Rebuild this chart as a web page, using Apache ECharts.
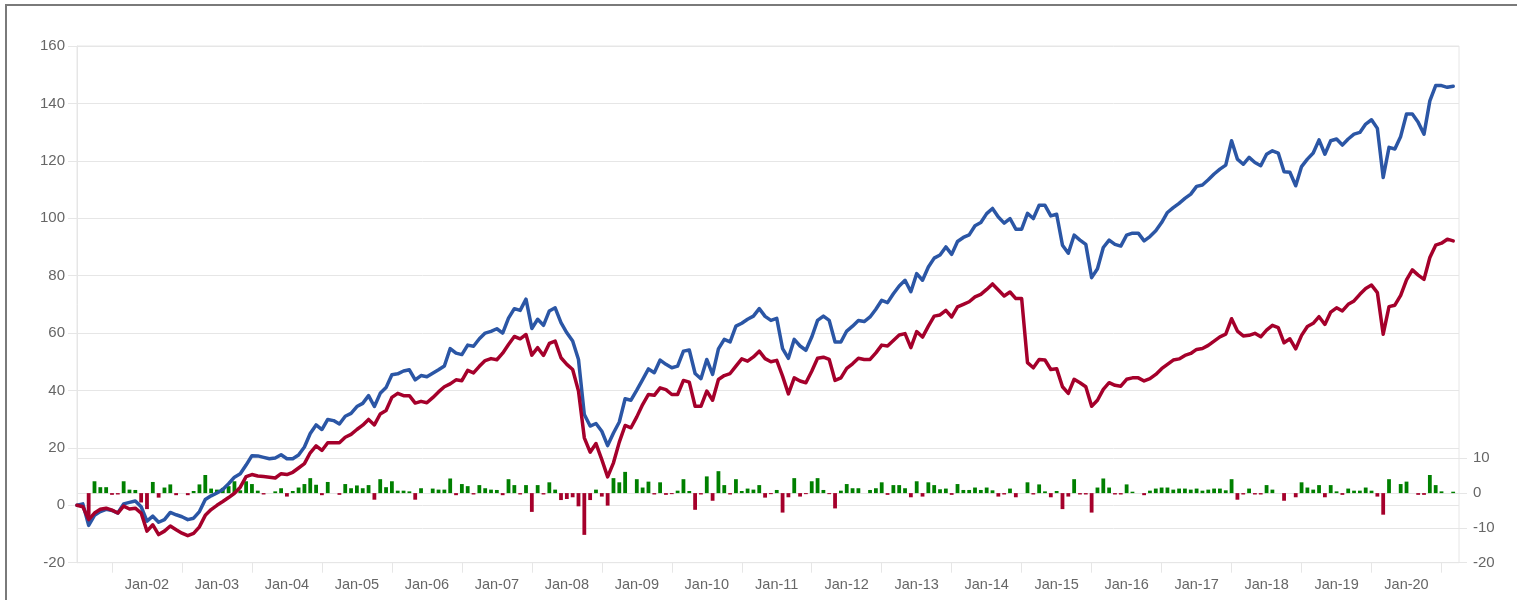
<!DOCTYPE html>
<html>
<head>
    <meta charset="utf-8">
    <title>ECharts</title>
    <script src="https://cdn.jsdelivr.net/npm/echarts@6/dist/echarts.min.js"></script>
    <style>
        body { margin: 0; background: #fff; overflow: hidden; }
        #frame { position: absolute; left: 5px; top: 4px; width: 1700px; height: 800px;
                 border-top: 2px solid #7a7a7a; border-left: 2px solid #7a7a7a; }
        #main { position: absolute; left: 0; top: 0; width: 1517px; height: 600px; }
    </style>
</head>
<body>
<div id="frame"></div>
<div id="main"></div>
<script type="text/javascript">
    // monthly points, Jul 2001 .. Mar 2021 (axis runs one month further)
    var startYear = 2001, startMonth = 7, monthCount = 238;

    // cumulative return, blue line
    var blueLine = [
        0, 0.5, -7, -3.5, -2.2, -1.4,
        -1.8, -2.7, 0.5, 1.0, 1.5, -0.5, -5.5, -3.8, -5.9, -5, -2.5, -3.3,
        -4, -5, -4.5, -2.2, 2, 3.3, 4.3, 5.5, 7.5, 9.8, 11, 14,
        17.3, 17.2, 16.7, 16.2, 16.5, 17.6, 16.2, 16.2, 17.5, 20.3, 25, 28,
        26.4, 29.9, 29.5, 28.3, 31, 32, 34.4, 35.5, 38.2, 34.4, 39, 41,
        45.5, 45.8, 46.8, 47.2, 43.7, 45.2, 44.8, 46, 47.2, 48.5, 54.6, 53,
        52.5, 55.8, 55.4, 58, 60, 60.6, 61.5, 60, 65.2, 68.5, 67.9, 71.8,
        61.6, 64.8, 62.7, 67.7, 68.8, 63.6, 60.1, 57.2, 50.8, 31.6, 27.6, 28.5,
        25.8, 20.8, 25.2, 29, 37.1, 36.6, 40.1, 43.8, 47.5, 46.2, 50.6, 49.1,
        47.9, 48.5, 53.7, 54.1, 45.9, 44.1, 50.8, 45.6, 54.5, 57.8, 56.9, 62.4,
        63.4, 64.8, 65.9, 68.5, 65.8, 64.4, 65.1, 54.6, 51.2, 57.8, 55.5, 54,
        58.6, 64.4, 65.9, 64.4, 56.9, 56.9, 60.7, 62.4, 64.4, 64, 65.6, 68.3,
        71.4, 70.6, 73.7, 76.4, 78.4, 74.4, 80.7, 78.4, 83, 86.1, 87.2, 90,
        87.4, 91.9, 93.3, 94.2, 97.4, 98.5, 101.6, 103.4, 100.4, 98.3, 99.9, 96.2,
        96.2, 101.7, 99.9, 104.5, 104.5, 100.8, 101.4, 90.6, 87.8, 94.1, 92.4, 90.9,
        79.3, 82.4, 89.8, 92.4, 90.9, 90.3, 94.1, 94.8, 94.8, 92.1, 93.6, 95.6,
        98.5, 102, 103.7, 105.2, 106.9, 108.4, 111.1, 111.6, 113.4, 115.4, 117.1, 118.5,
        127, 120.6, 118.8, 121.2, 119.4, 118.3, 122.3, 123.5, 122.7, 116.2, 116, 111.3,
        118, 120.6, 122.7, 127.3, 122.3, 127, 127.6, 125.5, 127.6, 129.3, 129.9, 132.8,
        134.3, 131.3, 114.2, 124.7, 124.1, 128.5, 136.3, 136.3, 133.4, 129.3, 140.9, 146.2,
        146.2, 145.6, 146
    ];

    // cumulative return, red line
    var redLine = [
        0, -0.5, -5, -2.7, -1.4, -1,
        -1.7, -2.7, -0.3, -1.3, -1, -2.7, -9, -6.8, -10.2, -9, -7.2, -8.5,
        -9.7, -10.6, -9.8, -7.5, -3.5, -1.5, 0, 1.3, 2.7, 4.2, 6.3, 10,
        10.7, 10.2, 10, 9.8, 9.5, 11, 10.7, 11.5, 13, 14.5, 18.3, 20.7,
        19.1, 21.8, 21.8, 21.8, 23.7, 24.7, 26.4, 27.9, 29.9, 28, 31.8, 33,
        37.6, 39, 38.2, 38.2, 35.6, 36.2, 35.7, 37.5, 39.5, 41.3, 42.3, 43.7,
        43.4, 47, 46.1, 48.4, 50.4, 51.1, 50.7, 53, 56, 58.8, 58, 59.5,
        52.3, 54.9, 52.2, 56.4, 57.2, 51.4, 49.1, 47.3, 39.8, 23.5, 18.5, 21.5,
        15.9, 9.9, 14.8, 22, 27.8, 27, 30.8, 35.1, 38.6, 38.3, 40.9, 40.3,
        38.6, 38.6, 43.5, 42.9, 34.5, 34.5, 39.8, 36.6, 43.8, 45.2, 45.9, 48.5,
        51, 50.2, 51.7, 53.7, 51.1, 50, 50.5, 45, 38.8, 44.4, 43.3, 42.7,
        46.7, 51.2, 51.6, 50.8, 43.5, 44.4, 47.7, 49.3, 51.2, 50.8, 50.8, 53.1,
        55.8, 55.5, 57.4, 59.3, 59.8, 54.9, 60.5, 58.6, 62.4, 65.9, 66.3, 67.9,
        65.6, 69.1, 70, 70.9, 72.6, 73.5, 75.2, 77.1, 75, 72.9, 74.3, 72,
        72, 49.7, 47.9, 50.8, 50.6, 47.3, 47.6, 41.3, 39, 43.9, 42.7, 41.3,
        34.5, 36.6, 40.4, 42.7, 41.8, 41.5, 43.9, 44.4, 44.4, 43.3, 44.1, 45.6,
        47.6, 49.1, 50.6, 51, 52.2, 52.9, 54.3, 54.6, 55.7, 57.2, 58.7, 59.6,
        65, 60.7, 59, 59.2, 59.9, 58.7, 61, 62.7, 61.9, 56.6, 58, 54.5,
        59.2, 62.3, 63.4, 65.7, 63, 67.3, 68.8, 67.7, 70, 71.2, 73.5, 75.5,
        76.7, 74.1, 59.6, 69.2, 69.7, 73.1, 78.5, 82, 80.2, 78.7, 86.3, 90.6,
        91.3, 92.7, 92.1
    ];

    // monthly difference, right axis bars
    var monthlyDiff = [
        0, 0, -7.5, 3.4, 1.7, 1.7,
        -0.5, -0.4, 3.4, 1.0, 0.9, -2.7, -4.6, 3.2, -1.3, 1.6, 2.5, -0.6,
        0, -0.6, 0.6, 2.5, 5.2, 1.3, 1.0, 1.5, 2.0, 3.4, 0.8, 3.4,
        2.6, 0.7, -0.4, 0, 0.5, 1.4, -1.0, 0.6, 1.6, 2.6, 4.3, 2.4,
        -0.6, 3.2, 0, -0.5, 2.6, 1.4, 2.2, 1.4, 2.3, -1.9, 4.0, 1.7,
        3.4, 0.7, 0.7, 0.5, -1.9, 1.4, 0, 1.3, 1.0, 1.0, 4.2, -0.6,
        2.6, 2.0, -0.4, 2.3, 1.4, 1.0, 0.9, -0.6, 4.0, 2.3, -0.4, 2.3,
        -5.4, 2.3, -0.4, 3.1, 1.0, -2.0, -1.7, -1.2, -3.8, -12, -2.0, 1.0,
        -1.0, -3.6, 4.3, 3.1, 6.1, 0, 4.0, 1.6, 3.3, -0.4, 3.1, -0.5,
        -0.3, 0.7, 4.0, 0.6, -4.8, -0.4, 4.8, -2.2, 6.3, 2.3, -0.4, 4.0,
        0.6, 1.3, 1.0, 2.3, -1.3, -0.3, 0.9, -5.6, -1.2, 4.3, -1.0, -0.3,
        3.4, 4.3, 0.9, -0.3, -4.4, 0.7, 2.6, 1.4, 1.4, 0, 0.9, 1.4,
        3.1, -0.5, 2.3, 2.3, 1.4, -1.2, 3.4, -1.0, 3.1, 2.3, 1.1, 1.3,
        -0.5, 2.6, 0.9, 0.9, 1.6, 0.9, 1.6, 0.8, -1.0, -0.4, 1.3, -1.2,
        0, 3.1, -0.4, 2.5, 0.5, -1.2, 0.6, -4.6, -1.0, 4.0, -0.4, -0.4,
        -5.6, 1.6, 4.2, 1.6, -0.4, -0.4, 2.5, 0.4, 0, -0.6, 0.7, 1.3,
        1.6, 1.6, 1.0, 1.3, 1.3, 1.0, 1.3, 0.7, 1.0, 1.3, 1.3, 0.8,
        4.0, -1.9, -0.4, 1.3, -0.4, -0.4, 2.3, 1.0, 0, -2.2, 0, -1.2,
        3.1, 1.6, 1.0, 2.3, -1.2, 2.3, 0.5, -0.5, 1.3, 0.7, 0.7, 1.6,
        0.7, -1.0, -6.2, 4.0, 0, 2.6, 3.3, 0, -0.5, -0.5, 5.2, 2.3,
        0.5, 0, 0.4
    ];

    var leftTicks = { min: -20, max: 160, step: 20 };
    var rightTicks = { min: -20, max: 10, step: 10 };

    var months = [];
    for (var k = 0; k < monthCount; k++) {
        var m = startMonth - 1 + k;
        var y = startYear + Math.floor(m / 12);
        var mm = (m % 12) + 1;
        months.push(y + '-' + (mm < 10 ? '0' + mm : mm));
    }

    var gridColor = '#e6e6e6';
    var textStyle = { color: '#666666', fontFamily: '"Liberation Sans", Arial, sans-serif' };
    var blue = '#2b56a5';
    var red = '#a5002b';
    var green = '#008000';

    var myChart = echarts.init(document.getElementById('main'), null, { renderer: 'canvas' });

    var option = {
        animation: false,
        backgroundColor: 'transparent',
        grid: [
            { left: 77, right: 58, top: 46, bottom: 37.3, show: true,
              borderColor: gridColor, borderWidth: 1, backgroundColor: 'transparent' },
            { left: 77, right: 58, top: 458.3, bottom: 37.3 }
        ],
        xAxis: [
            {
                type: 'category', gridIndex: 0, data: months, boundaryGap: false,
                axisLine: { show: true, onZero: false, lineStyle: { color: gridColor } },
                axisTick: {
                    show: true, length: 10, lineStyle: { color: gridColor },
                    interval: function (i) { return i % 12 === 6; }
                },
                axisLabel: {
                    color: textStyle.color, fontFamily: textStyle.fontFamily, fontSize: 14.5, margin: 15,
                    interval: function (i) { return i > 0 && i % 12 === 0; },
                    formatter: function (v) { return 'Jan-' + v.slice(2, 4); }
                },
                splitLine: { show: false }
            },
            {
                type: 'category', gridIndex: 1, data: months, boundaryGap: false, show: false,
                axisLine: { onZero: false }
            }
        ],
        yAxis: [
            {
                type: 'value', gridIndex: 0, position: 'left',
                min: leftTicks.min, max: leftTicks.max, interval: leftTicks.step,
                axisLine: { show: true, lineStyle: { color: gridColor } },
                axisTick: { show: true, length: 9, lineStyle: { color: gridColor } },
                axisLabel: { color: textStyle.color, fontFamily: textStyle.fontFamily, fontSize: 15, margin: 12 },
                splitLine: { show: true, lineStyle: { color: gridColor, width: 1 } }
            },
            {
                type: 'value', gridIndex: 1, position: 'right',
                min: rightTicks.min, max: rightTicks.max, interval: rightTicks.step,
                axisLine: { show: false },
                axisTick: { show: true, length: 8, lineStyle: { color: gridColor } },
                axisLabel: { color: textStyle.color, fontFamily: textStyle.fontFamily, fontSize: 15, margin: 14 },
                splitLine: { show: true, lineStyle: { color: gridColor, width: 1 } }
            }
        ],
        series: [
            {
                name: 'Difference', type: 'bar', xAxisIndex: 1, yAxisIndex: 1,
                data: monthlyDiff, barWidth: 3.8, z: 2,
                itemStyle: {
                    color: function (p) { return p.value >= 0 ? green : red; }
                }
            },
            {
                name: 'Blue', type: 'line', xAxisIndex: 0, yAxisIndex: 0,
                data: blueLine, showSymbol: false, z: 3,
                lineStyle: { color: blue, width: 3.5, join: 'round', cap: 'round' },
                itemStyle: { color: blue }
            },
            {
                name: 'Red', type: 'line', xAxisIndex: 0, yAxisIndex: 0,
                data: redLine, showSymbol: false, z: 4,
                lineStyle: { color: red, width: 3.5, join: 'round', cap: 'round' },
                itemStyle: { color: red }
            }
        ]
    };

    myChart.setOption(option);
</script>
</body>
</html>
